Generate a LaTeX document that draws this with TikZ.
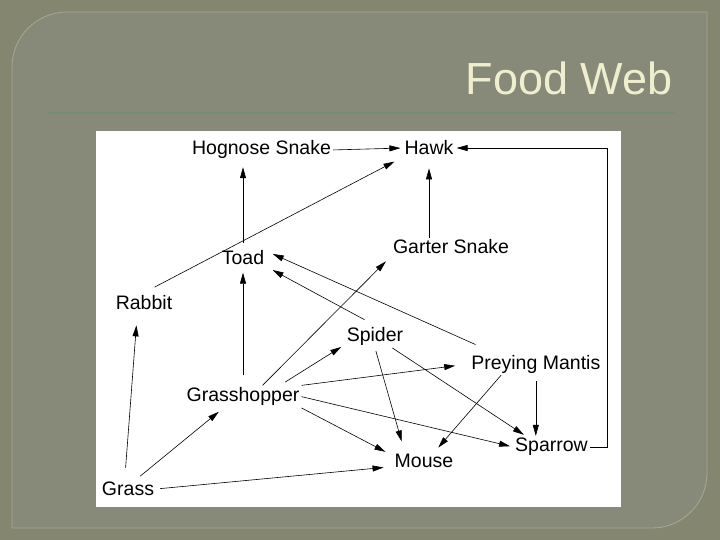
\documentclass[tikz,border=0pt]{standalone}
\usepackage{fontspec}
\usepackage{tikz}
\usepackage{xcolor}
\usetikzlibrary{arrows.meta, calc}

\setmainfont{Liberation Sans}

\definecolor{fond}{HTML}{848670}
\definecolor{cadre}{HTML}{888A79}
\definecolor{bordure}{HTML}{A7A996}
\definecolor{creme}{HTML}{EFEFCF}
\definecolor{trait}{HTML}{778C78}

\begin{document}
\begin{tikzpicture}[
    x=1pt, y=-1pt,
    animal/.style={inner sep=2pt, anchor=base,
      font=\fontsize{19.5}{22}\selectfont},
    title/.style={anchor=base east, text=creme,
      font=\fontsize{45}{50}\selectfont},
    frame/.style={draw=bordure, fill=cadre, line width=0.8pt},
    line/.style={-{Triangle[length=11pt, width=6pt]}, line width=0.6pt,
      shorten >=2pt}
    ]

    % Fond de la diapo
    \useasboundingbox (0,0) rectangle (720,540);
    \fill[fond] (0,0) rectangle (720,540);
    \draw[frame] (12,528) [rounded corners=55pt] -- (12,12) [sharp corners]
    -- (707,12) [rounded corners=55pt] -- (707,528) [sharp corners] -- cycle;

    % Titre
    \node[title] (Titre) at (676,95) {Food Web};
    \draw[trait, line width=2.5pt] (47,113) -- (675,113);

    % Zone du schema
    \fill[white] (96,131.5) rectangle (620.7,506.7);

    % Animaux et plantes
    \node[animal] (HognoseSnake) at (261.5,155) {Hognose Snake};
    \node[animal] (Hawk) at (429,155) {Hawk};
    \node[animal] (GarterSnake) at (451,254) {Garter Snake};
    \node[animal] (Toad) at (243,264.3) {Toad};
    \node[animal] (Rabbit) at (144,309) {Rabbit};
    \node[animal] (Spider) at (375,341.7) {Spider};
    \node[animal] (PreyingMantis) at (535.8,369) {Preying Mantis};
    \node[animal] (Grasshopper) at (243,401.7) {Grasshopper};
    \node[animal] (Sparrow) at (551.5,451.7) {Sparrow};
    \node[animal] (Mouse) at (424,467.7) {Mouse};
    \node[animal] (Grass) at (128,495.7) {Grass};

    % Vers le faucon
    \draw[line] (HognoseSnake.east) -- (Hawk.west);
    \draw[line, shorten <=12pt, shorten >=9pt] (Rabbit.north) -- (Hawk.south west);
    \draw[line, shorten >=11pt] (Hawk.south |- GarterSnake.north) -- (Hawk.south);
    \draw[line, shorten >=1pt] (Sparrow.east) -- ++(17,0) |- (Hawk.east);

    % Vers le crapaud et le serpent
    \draw[line, shorten <=5pt, shorten >=6pt] (Toad.north)
    -- (Toad.north |- HognoseSnake.south);
    \draw[line, shorten <=10pt, shorten >=6pt] (Grasshopper.north) -- (Toad.south);
    \draw[line, shorten <=12pt, shorten >=7pt] (Spider.north) -- (Toad.south east);
    \draw[line, shorten <=20pt, shorten >=7pt] (PreyingMantis.165) -- (Toad.15);

    % Depuis la sauterelle
    \draw[line, shorten >=7pt] (Grasshopper.30) -- (GarterSnake.south west);
    \draw[line, shorten <=6pt, shorten >=4pt] (Grasshopper.17) -- (Spider.195);
    \draw[line, shorten >=14pt] (Grasshopper.north east) -- (PreyingMantis.west);
    \draw[line, shorten >=3pt] (Grasshopper.east) -- (Sparrow.west);
    \draw[line, shorten >=8pt] (Grasshopper.south east) -- (Mouse.170);

    % Depuis l'araignee et la mante
    \draw[line, shorten <=3pt, shorten >=11pt] (Spider.south) -- (Mouse.155);
    \draw[line] (Spider.-33) -- (Sparrow.157);
    \draw[line, shorten >=6pt] (PreyingMantis.198) -- (Mouse.41);
    \draw[line, shorten <=6pt, shorten >=0pt] (PreyingMantis.south)
    -- (PreyingMantis.south |- Sparrow.north);

    % Depuis l'herbe
    \draw[line, shorten <=12pt, shorten >=14pt] (Grass.110) -- (Rabbit.235);
    \draw[line, shorten <=6pt, shorten >=6pt] (Grass.50) -- (Grasshopper.210);
    \draw[line, shorten <=4pt, shorten >=9pt] (Grass.east) -- (Mouse.190);

  \end{tikzpicture}
\end{document}
